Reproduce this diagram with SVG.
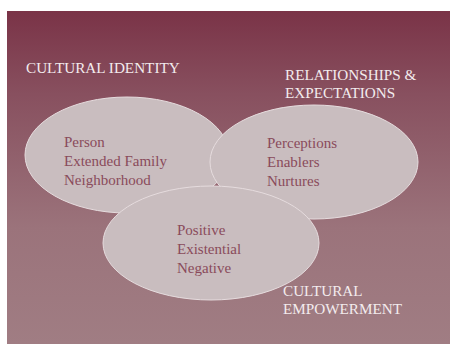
<svg xmlns="http://www.w3.org/2000/svg" width="450" height="344" viewBox="0 0 450 344">
  <defs>
    <linearGradient id="bg" x1="0" y1="0" x2="0" y2="1">
      <stop offset="0" stop-color="#7a3347"/>
      <stop offset="0.25" stop-color="#88505f"/>
      <stop offset="0.65" stop-color="#9b737b"/>
      <stop offset="1" stop-color="#a07d83"/>
    </linearGradient>
    <style>
      .set { fill: #c9bdbf; stroke: #e6dcde; stroke-width: 1; }
      .head { font-family: "Liberation Serif", "Times New Roman", serif; font-size: 15.2px; fill: #f3ecee; }
      .item { font-family: "Liberation Serif", "Times New Roman", serif; font-size: 15px; fill: #8a4b5b; }
    </style>
  </defs>

  <!-- backdrop panel -->
  <rect x="7" y="11" width="443" height="333" fill="url(#bg)"/>

  <!-- group labels -->
  <text class="head" x="26" y="73">CULTURAL IDENTITY</text>
  <text class="head" x="285" y="80">RELATIONSHIPS &amp;</text>
  <text class="head" x="285" y="98">EXPECTATIONS</text>

  <!-- overlapping sets -->
  <g id="identity">
    <ellipse class="set" cx="127" cy="155" rx="102" ry="58"/>
    <text class="item" x="64" y="147">Person</text>
    <text class="item" x="64" y="166">Extended Family</text>
    <text class="item" x="64" y="185">Neighborhood</text>
  </g>
  <g id="relationships">
    <ellipse class="set" cx="314" cy="162" rx="104" ry="57"/>
    <text class="item" x="267" y="148">Perceptions</text>
    <text class="item" x="267" y="167">Enablers</text>
    <text class="item" x="267" y="186">Nurtures</text>
  </g>
  <g id="empowerment">
    <ellipse class="set" cx="211" cy="243" rx="108" ry="57"/>
    <text class="item" x="177" y="235">Positive</text>
    <text class="item" x="177" y="254">Existential</text>
    <text class="item" x="177" y="273">Negative</text>
  </g>

  <text class="head" x="283" y="296">CULTURAL</text>
  <text class="head" x="283" y="314">EMPOWERMENT</text>

  <g id="connectors"/>
</svg>
